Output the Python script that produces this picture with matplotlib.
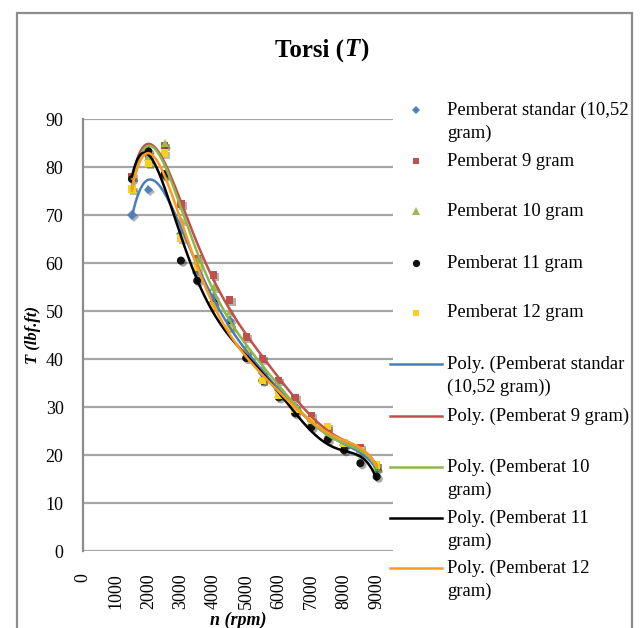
import numpy as np
import matplotlib
matplotlib.use("Agg")
import matplotlib.pyplot as plt
from matplotlib.lines import Line2D
from matplotlib.patches import Rectangle
import matplotlib.patheffects as pe

plt.rcParams['font.family'] = ['Liberation Serif', 'DejaVu Serif']

rpm = [1500, 2000, 2500, 3000, 3500, 4000, 4500, 5000, 5500, 6000, 6500, 7000, 7500, 8000, 8500, 9000]
standar = [70, 75.3, 78, 66, 58, 53, 48, 41.5, 37, 33.5, 30, 27, 24.5, 22, 20.5, 17]
g9 = [78, 82.5, 84.5, 72.3, 61, 57.5, 52.3, 44.6, 40, 35.6, 32, 28.3, 25.5, 22.5, 21.5, 17.8]
g10 = [76, 82, 85, 69, 60.5, 55, 50, 42.5, 38, 34, 30.5, 27, 24.5, 22.5, 20.5, 17.5]
g11 = [77.5, 83.3, 78.5, 60.5, 56.3, 51.7, 47, 40.2, 35.5, 32, 28.7, 25.8, 23.2, 21, 18.3, 15.5]
g12 = [75.4, 80.8, 82.9, 65.2, 59, 51.2, 46.5, 41.5, 35.6, 32.5, 29.5, 27.2, 26, 22.5, 21, 17.9]

names = ["Pemberat standar (10,52 gram)", "Pemberat 9 gram", "Pemberat 10 gram",
         "Pemberat 11 gram", "Pemberat 12 gram"]
series = [standar, g9, g10, g11, g12]
marker_colors = ["#4F81BD", "#C0504D", "#9BBB59", "#111111", "#F5D31C"]
markers = ["D", "s", "^", "o", "s"]
msizes = [4.8, 5.2, 5.8, 5.8, 5.2]
line_colors = ["#4A7EBB", "#C0504D", "#8DB849", "#000000", "#FF9A1A"]

W, H = 641, 628
fig = plt.figure(figsize=(W / 100, H / 100), dpi=100)

def fx(px):
    return px / W

def fy(py):
    return 1 - py / H

# chart border
fig.add_artist(Rectangle((fx(17), fy(700)), fx(632) - fx(17), fy(13) - fy(700),
                         transform=fig.transFigure, fill=False, edgecolor="#8C8C8C",
                         lw=1.6, clip_on=False))

ax = fig.add_axes([fx(83), fy(551), fx(393) - fx(83), fy(119) - fy(551)])
ax.set_xlim(0, 9500)
ax.set_ylim(0, 90)
ax.set_xticks(range(0, 10000, 1000))
ax.set_yticks(range(0, 100, 10))
ax.yaxis.grid(True, color="#A6A6A6", lw=1.6)
ax.set_axisbelow(True)
for s in ["top", "right", "bottom"]:
    ax.spines[s].set_visible(False)
ax.spines["left"].set_color("#8C8C8C")
ax.spines["left"].set_linewidth(1.6)
ax.tick_params(axis="both", length=0, labelsize=13)
ax.tick_params(axis="y", pad=14)
ax.tick_params(axis="x", pad=16)
for lab in ax.get_xticklabels():
    lab.set_rotation(90)
    lab.set_va("top")
    lab.set_ha("center")

shadow = [pe.SimplePatchShadow(offset=(1.5, -1.5), alpha=0.35), pe.Normal()]
x = np.array(rpm, dtype=float)
for ys, c, m, ms in zip(series, marker_colors, markers, msizes):
    ax.plot(rpm, ys, linestyle="none", marker=m, color=c, markersize=ms,
            markeredgewidth=0, path_effects=shadow, zorder=3)

xs = np.linspace(min(rpm), max(rpm), 400)
for ys, c in zip(series, line_colors):
    coef = np.polyfit(x / 1000, np.array(ys), 6)
    ax.plot(xs, np.polyval(coef, xs / 1000), color=c, lw=1.8, zorder=4)

ax.set_xlabel("n (rpm)", fontsize=13, fontweight="bold", fontstyle="italic", labelpad=2)
ax.set_ylabel("T (lbf.ft)", fontsize=12, fontweight="bold", fontstyle="italic", labelpad=3)

# title assembled from pieces (upright + italic T)
tsize = 18
renderer = fig.canvas.get_renderer()
parts = [("Torsi (", "normal"), ("T", "italic"), (")", "normal")]
widths = []
for txt, st in parts:
    t = fig.text(0, 0, txt, fontsize=tsize, fontweight="bold", fontstyle=st)
    widths.append(t.get_window_extent(renderer).width)
    t.remove()
total = sum(widths) + 1
cur = 322 - total / 2
for (txt, st), w in zip(parts, widths):
    fig.text(fx(cur), fy(50), txt, fontsize=tsize, fontweight="bold", fontstyle=st,
             ha="left", va="center")
    cur += w + (1 if txt == "T" else 0)

# legend (drawn manually to match wrapped entries)
entry_y = [110, 161, 211, 263, 313, 364, 416, 467, 518, 568]
labels = [["Pemberat standar (10,52", "gram)"], ["Pemberat 9 gram"], ["Pemberat 10 gram"],
          ["Pemberat 11 gram"], ["Pemberat 12 gram"],
          ["Poly. (Pemberat standar", "(10,52 gram))"], ["Poly. (Pemberat 9 gram)"],
          ["Poly. (Pemberat 10", "gram)"], ["Poly. (Pemberat 11", "gram)"],
          ["Poly. (Pemberat 12", "gram)"]]
for i, (py, lines) in enumerate(zip(entry_y, labels)):
    if i < 5:
        fig.add_artist(Line2D([fx(416)], [fy(py)], transform=fig.transFigure,
                              marker=markers[i], color=marker_colors[i],
                              markersize=msizes[i] * 0.9, markeredgewidth=0, linestyle="none"))
    else:
        fig.add_artist(Line2D([fx(390), fx(442)], [fy(py), fy(py)],
                              transform=fig.transFigure, color=line_colors[i - 5], lw=1.8))
    for k, t in enumerate(lines):
        fig.text(fx(447), fy(py + 23 * k), t, fontsize=13.4, ha="left", va="center")

fig.savefig("out.png", dpi=100)
